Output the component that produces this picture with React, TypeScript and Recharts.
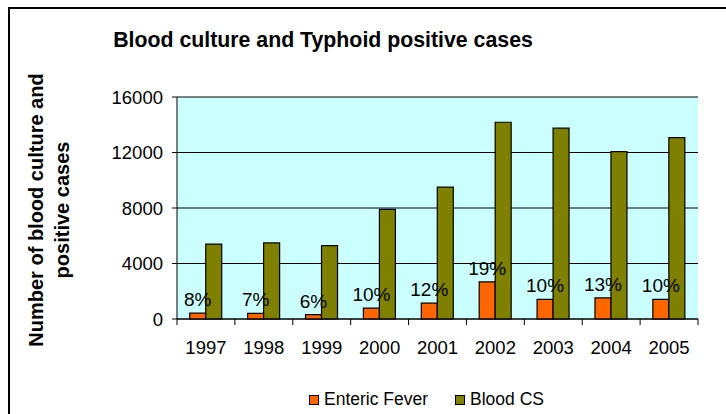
import React from 'react';
import { BarChart, Bar, XAxis, YAxis, CartesianGrid, Legend, LabelList } from 'recharts';

// values
const years = ['1997', '1998', '1999', '2000', '2001', '2002', '2003', '2004', '2005'];
const entericFever = [420, 400, 320, 790, 1140, 2680, 1420, 1520, 1420];
const bloodCS = [5400, 5480, 5290, 7900, 9500, 14180, 13750, 12060, 13070];
const positivePct = ['8%', '7%', '6%', '10%', '12%', '19%', '10%', '13%', '10%'];
const yTicks = [0, 4000, 8000, 12000, 16000];
const seriesOrder = ['Enteric Fever', 'Blood CS'];

const data = years.map((year, i) => ({
  year,
  enteric: entericFever[i],
  blood: bloodCS[i],
  pct: positivePct[i],
}));

const FONT = '"Liberation Sans", Arial, sans-serif';

const ORANGE = '#FF6600';
const OLIVE = '#808000';

// category label plus a tick mark on the band boundaries
const YearTick = (props: any) => {
  const { x, y, payload, index } = props;
  const half = payload.offset || 0;
  const last = index === years.length - 1;
  return (
    <g>
      <line x1={x - half} x2={x - half} y1={y} y2={y + 6} stroke="#000" />
      {last && <line x1={x + half} x2={x + half} y1={y} y2={y + 6} stroke="#000" />}
      <text x={x} y={y + 35} textAnchor="middle" fontSize={18.5} fontFamily={FONT} fill="#000">
        {payload.value}
      </text>
    </g>
  );
};

const LegendBox = (props: any) => {
  const items = [...(props.payload || [])].sort(
    (a: any, b: any) => seriesOrder.indexOf(a.value) - seriesOrder.indexOf(b.value)
  );
  return (
    <div style={{ display: 'flex', alignItems: 'center', fontFamily: FONT, fontSize: 17.5, color: '#000' }}>
      {items.map((p: any, i: number) => (
        <div key={p.value} style={{ display: 'flex', alignItems: 'center', marginRight: i === 0 ? 27 : 0 }}>
          <span
            style={{
              display: 'inline-block',
              width: 8,
              height: 8,
              background: p.color,
              border: '1px solid #000',
              marginRight: 5,
            }}
          />
          <span>{p.value}</span>
        </div>
      ))}
    </div>
  );
};

export default function App() {
  return (
    <div style={{ position: 'absolute', left: 0, top: 0, width: 726, height: 414, background: '#fff', overflow: 'hidden' }}>
      <div
        style={{
          position: 'absolute',
          left: 8,
          top: 7,
          width: 740,
          height: 420,
          borderLeft: '2px solid #000',
          borderTop: '2px solid #000',
        }}
      />
      <div
        style={{
          position: 'absolute',
          left: 0,
          top: 28,
          width: 646,
          textAlign: 'center',
          fontFamily: FONT,
          fontWeight: 'bold',
          fontSize: 21.3,
          lineHeight: '24px',
          color: '#000',
        }}
      >
        Blood culture and Typhoid positive cases
      </div>
      <div
        style={{
          position: 'absolute',
          left: -101,
          top: 184,
          width: 300,
          height: 52,
          textAlign: 'center',
          fontFamily: FONT,
          fontWeight: 'bold',
          fontSize: 20,
          lineHeight: '26px',
          whiteSpace: 'nowrap',
          transform: 'rotate(-90deg)',
          color: '#000',
        }}
      >
        Number of blood culture and
        <br />
        positive cases
      </div>
      <BarChart
        width={726}
        height={414}
        data={data}
        margin={{ top: 97, right: 28, bottom: 65, left: 0 }}
        barCategoryGap="22%"
        barGap={0}
        style={{ position: 'absolute', left: 0, top: 0 }}
      >
        <CartesianGrid vertical={false} stroke="#000" fill="#CCFFFF" />
        <XAxis
          dataKey="year"
          height={30}
          axisLine={{ stroke: '#000' }}
          tickLine={false}
          tickSize={0}
          tickMargin={0}
          interval={0}
          tick={<YearTick />}
        />
        <YAxis
          domain={[0, 16000]}
          ticks={yTicks}
          width={177}
          tickSize={5}
          tickMargin={9}
          axisLine={{ stroke: '#000' }}
          tickLine={{ stroke: '#000' }}
          tick={{ fontSize: 18.5, fontFamily: FONT, fill: '#000' }}
        />
        <YAxis yAxisId="edge" orientation="right" width={0} tick={false} tickLine={false} axisLine={{ stroke: '#000' }} />
        <Legend
          verticalAlign="middle"
          layout="horizontal"
          align="center"
          itemSorter={null}
          wrapperStyle={{ top: 389, left: 309, width: 300 }}
          content={<LegendBox />}
        />
        <Bar dataKey="enteric" name="Enteric Fever" fill={ORANGE} stroke="#000" strokeWidth={1.2} isAnimationActive={false}>
          <LabelList dataKey="pct" position="top" offset={7} fontSize={19} fontFamily={FONT} fill="#000" />
        </Bar>
        <Bar dataKey="blood" name="Blood CS" fill={OLIVE} stroke="#000" strokeWidth={1.2} isAnimationActive={false} />
      </BarChart>
    </div>
  );
}
